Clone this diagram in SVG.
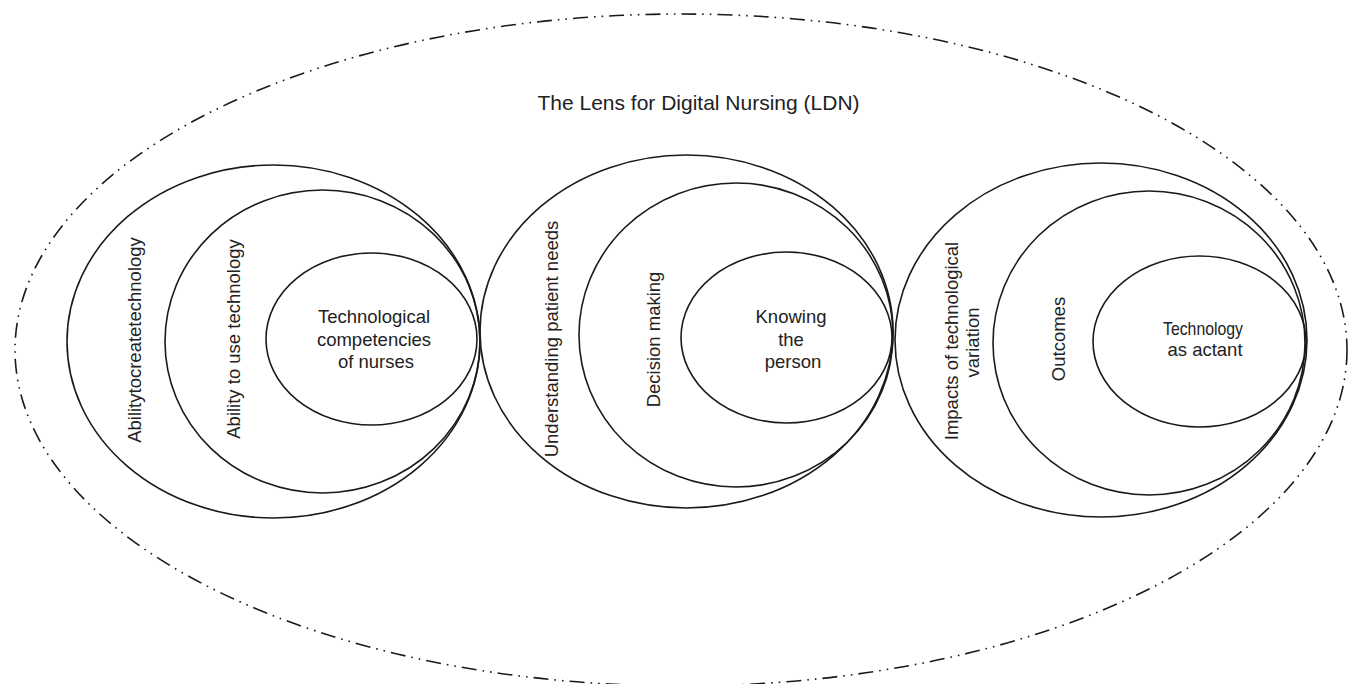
<svg xmlns="http://www.w3.org/2000/svg" width="1351" height="684" viewBox="0 0 1351 684">
<style>
.e{fill:none;stroke:#1a1a1a;stroke-width:1.6}
.d{fill:none;stroke:#1a1a1a;stroke-width:1.6;stroke-dasharray:15 6 1.6 6 1.6 6}
.t{font-family:"Liberation Sans",Arial,sans-serif;font-size:18.5px;fill:#222;text-anchor:middle}
.h{font-family:"Liberation Sans",Arial,sans-serif;font-size:21px;fill:#222;text-anchor:middle}
</style>
<rect width="1351" height="684" fill="#fff"/>
<g id="lens">
<ellipse class="d" cx="681" cy="350" rx="666" ry="336"/>
<text class="h" x="698.5" y="110">The Lens for Digital Nursing (LDN)</text>
</g>
<g id="group1">
<g id="ability-create">
<ellipse class="e" cx="273.5" cy="341.5" rx="206.5" ry="176.5"/>
<text class="t" transform="translate(140.5,340) rotate(-90)">Abilitytocreatetechnology</text>
</g>
<g id="ability-use">
<ellipse class="e" cx="322.5" cy="341.5" rx="157.5" ry="151.5"/>
<text class="t" transform="translate(240,339) rotate(-90)">Ability to use technology</text>
</g>
<g id="tech-competencies">
<ellipse class="e" cx="371.5" cy="339" rx="105.5" ry="86"/>
<text class="t" x="374" y="323">Technological</text>
<text class="t" x="374" y="345.5">competencies</text>
<text class="t" x="376" y="368">of nurses</text>
</g>
</g>
<g id="group2">
<g id="understanding">
<ellipse class="e" cx="686.5" cy="331.5" rx="206.5" ry="176.5"/>
<text class="t" transform="translate(558,339) rotate(-90)">Understanding patient needs</text>
</g>
<g id="decision">
<ellipse class="e" cx="736" cy="335" rx="157" ry="152"/>
<text class="t" transform="translate(660,339.5) rotate(-90)">Decision making</text>
</g>
<g id="knowing">
<ellipse class="e" cx="786.5" cy="337.5" rx="105.5" ry="85.5"/>
<text class="t" x="791" y="323">Knowing</text>
<text class="t" x="791" y="345.5">the</text>
<text class="t" x="793" y="368">person</text>
</g>
</g>
<g id="group3">
<g id="impacts">
<ellipse class="e" cx="1101" cy="340" rx="206" ry="177"/>
<text class="t" transform="translate(958,341) rotate(-90)">Impacts of technological</text>
<text class="t" transform="translate(979,342.5) rotate(-90)">variation</text>
</g>
<g id="outcomes">
<ellipse class="e" cx="1149" cy="343" rx="156" ry="152"/>
<text class="t" transform="translate(1065,339) rotate(-90)">Outcomes</text>
</g>
<g id="actant">
<ellipse class="e" cx="1199.5" cy="341.5" rx="106.5" ry="85.5"/>
<text class="t" x="1203" y="335" textLength="80" lengthAdjust="spacingAndGlyphs">Technology</text>
<text class="t" x="1205" y="356">as actant</text>
</g>
</g>
<g id="connectors"/>
</svg>
